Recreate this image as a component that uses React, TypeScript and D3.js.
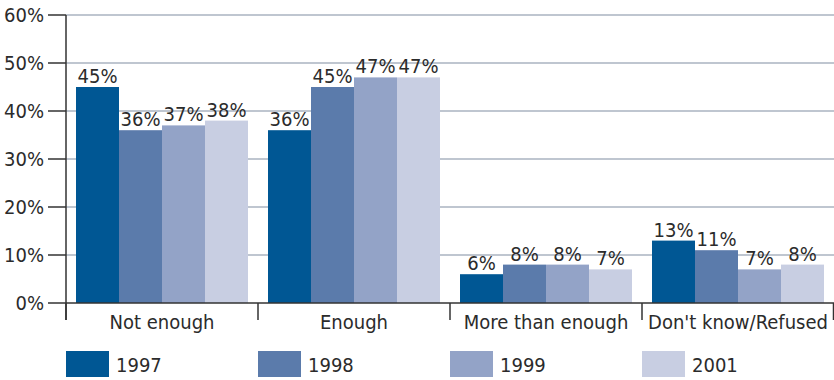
import React from "react";
import * as d3 from "d3";

const categories = ["Not enough", "Enough", "More than enough", "Don't know/Refused"];
const years = ["1997", "1998", "1999", "2001"];
const values1997 = [45, 36, 6, 13];
const values1998 = [36, 45, 8, 11];
const values1999 = [37, 47, 8, 7];
const values2001 = [38, 47, 7, 8];
const yTicks = [0, 10, 20, 30, 40, 50, 60];
const colors = ["#005794", "#5b7bab", "#93a3c7", "#c8cee2"];

const seriesValues = [values1997, values1998, values1999, values2001];

const W = 834;
const H = 380;
const FONT = "'Liberation Sans Narrow', 'DejaVu Sans Condensed', 'Arial Narrow', sans-serif";
const TEXT = "#2b2b2b";

export default function App() {
  const left = 66;
  const right = 834;
  const top = 15;
  const bottom = 303;

  const x0 = d3.scaleBand<string>().domain(categories).range([left, right]).paddingInner(0).paddingOuter(0);
  const x1 = d3
    .scaleBand<string>()
    .domain(years)
    .range([10, x0.bandwidth() - 10])
    .padding(0);
  const y = d3.scaleLinear().domain([0, 60]).range([bottom, top]);

  const boundaries = categories.map((c) => x0(c) as number).concat([right - 0.5]);

  return (
    <svg
      width={W}
      height={H}
      style={{ position: "absolute", left: 0, top: 0, background: "#fff" }}
      fontFamily={FONT}
    >
      {/* gridlines */}
      {yTicks.slice(1).map((t) => (
        <line key={t} x1={left} x2={right} y1={y(t)} y2={y(t)} stroke="#aab3c0" strokeWidth={1.3} />
      ))}

      {/* bars */}
      {categories.map((c, ci) => (
        <g key={c} transform={`translate(${x0(c)},0)`}>
          {years.map((yr, si) => {
            const v = seriesValues[si][ci];
            const bx = x1(yr) as number;
            return (
              <g key={yr}>
                <rect x={bx} y={y(v)} width={x1.bandwidth()} height={bottom - y(v)} fill={colors[si]} />
                <text
                  x={bx + x1.bandwidth() / 2}
                  y={y(v) - 4}
                  textAnchor="middle"
                  fontSize={20}
                  fill={TEXT}
                >
                  {v}%
                </text>
              </g>
            );
          })}
        </g>
      ))}

      {/* y axis */}
      <line x1={left} x2={left} y1={top} y2={320} stroke="#333" strokeWidth={1.5} />
      {yTicks.map((t) => (
        <g key={t}>
          <line x1={48} x2={left} y1={y(t)} y2={y(t)} stroke="#333" strokeWidth={1.5} />
          <text x={44} y={y(t) + 7} textAnchor="end" fontSize={20} fill={TEXT}>
            {t}%
          </text>
        </g>
      ))}

      {/* x axis */}
      <line x1={left} x2={right} y1={bottom} y2={bottom} stroke="#333" strokeWidth={1.5} />
      {boundaries.map((b, i) => (
        <line key={i} x1={b} x2={b} y1={bottom} y2={320} stroke="#333" strokeWidth={1.5} />
      ))}
      {categories.map((c) => (
        <text
          key={c}
          x={(x0(c) as number) + x0.bandwidth() / 2}
          y={329}
          textAnchor="middle"
          fontSize={20}
          fill={TEXT}
        >
          {c}
        </text>
      ))}

      {/* legend */}
      {years.map((yr, i) => {
        const lx = (x0(categories[i]) as number);
        return (
          <g key={yr}>
            <rect x={lx} y={351} width={43} height={26} fill={colors[i]} />
            <text x={lx + 50} y={372} fontSize={20} fill={TEXT}>
              {yr}
            </text>
          </g>
        );
      })}
    </svg>
  );
}
